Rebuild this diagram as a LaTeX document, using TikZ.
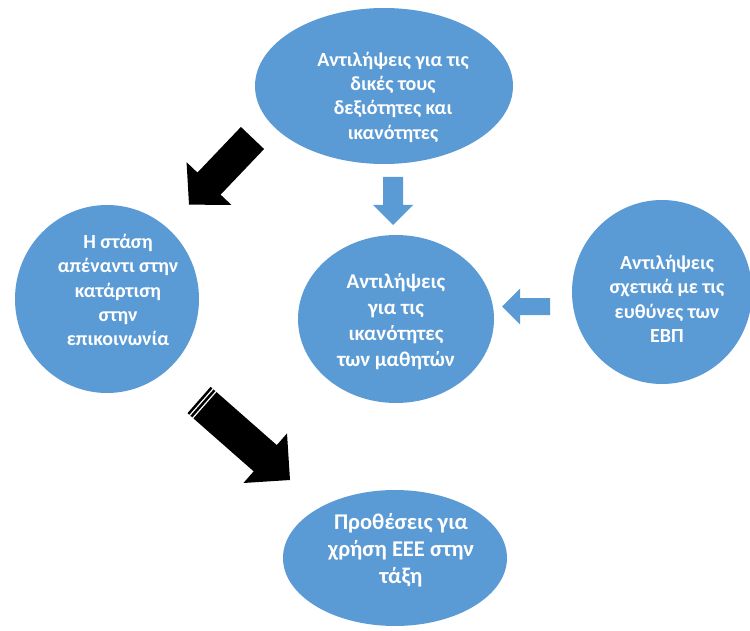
\documentclass[tikz,border=0pt]{standalone}
\usepackage{fontspec}
\setmainfont{Carlito}[BoldFont={Carlito Bold}]
\usetikzlibrary{calc,shapes.geometric}
\definecolor{ovalblue}{RGB}{91,155,213}
\tikzset{
  oval/.style={ellipse, fill=ovalblue, inner sep=0pt},
  lbl/.style={text=white, font=\bfseries\fontsize{20}{24.3}\selectfont, align=center, inner sep=0pt},
  lblbig/.style={lbl, font=\bfseries\fontsize{21}{26}\selectfont},
  lblhuge/.style={lbl, font=\bfseries\fontsize{22.5}{27}\selectfont},
  blackarrow/.style={fill=black},
  bluearrow/.style={fill=ovalblue},
}
% #1 style, #2 tail coordinate, #3 tip coordinate, #4 shaft half width, #5 head half width, #6 head length
\newcommand\blockarrow[6]{%
  \coordinate (#2-b) at ($(#3)!#6!(#2)$);
  \fill[#1] ($(#2)!#4!90:(#3)$) -- ($(#2-b)!#4!90:(#3)$) -- ($(#2-b)!#5!90:(#3)$) -- (#3)
    -- ($(#2-b)!#5!-90:(#3)$) -- ($(#2-b)!#4!-90:(#3)$) -- ($(#2)!#4!-90:(#3)$) -- cycle;
}
\begin{document}
\begin{tikzpicture}[x=1pt,y=-1pt]
\useasboundingbox (0,0) rectangle (750,631);
% ovals
\node[oval, minimum width=258pt, minimum height=156pt] (own) at (384,86) {};
\node[oval, minimum width=184pt, minimum height=188pt] (attitude) at (107,299) {};
\node[oval, minimum width=196pt, minimum height=168pt] (students) at (396,319) {};
\node[oval, minimum width=180pt, minimum height=184pt] (resp) at (662,292) {};
\node[oval, minimum width=224pt, minimum height=136pt] (intent) at (395,558) {};
% texts
\node[lbl] (own-t) at (393,97) {Αντιλήψεις για τις\\δικές τους\\δεξιότητες και\\ικανότητες};
\node[lbl] (attitude-t) at (118,290) {Η στάση\\απέναντι στην\\κατάρτιση\\στην\\επικοινωνία};
\node[lblbig] (students-t) at (396,322) {Αντιλήψεις\\για τις\\ικανότητες\\των μαθητών};
\node[lbl] (resp-t) at (667,299) {Αντιλήψεις\\σχετικά με τις\\ευθύνες των\\ΕΒΠ};
\node[lblhuge] (intent-t) at (401,550) {Προθέσεις για\\χρήση ΕΕΕ στην\\τάξη};
% arrow coordinates
\coordinate (a1t) at (252.5,138);
\coordinate (a1h) at (189,204.6);
\coordinate (a2t) at (199,400);
\coordinate (a2h) at (290,480);
\coordinate (a3t) at (393,177);
\coordinate (a3h) at (393,225);
\coordinate (a4t) at (550,306.5);
\coordinate (a4h) at (502,306.5);
% arrows
\blockarrow{blackarrow}{a1t}{a1h}{16pt}{31pt}{29pt}
\blockarrow{blackarrow}{a2t}{a2h}{17.5pt}{33pt}{33pt}
\blockarrow{bluearrow}{a3t}{a3h}{10pt}{20pt}{20pt}
\blockarrow{bluearrow}{a4t}{a4h}{8.5pt}{18pt}{18pt}
% stripes on the striped arrow
\coordinate (s1) at ($(a2t)!3.2pt!(a2h)$);
\coordinate (s2) at ($(a2t)!7.2pt!(a2h)$);
\draw[white, line width=1.2pt] ($(s1)!19pt!90:(a2h)$) -- ($(s1)!19pt!-90:(a2h)$);
\draw[white, line width=1.2pt] ($(s2)!19pt!90:(a2h)$) -- ($(s2)!19pt!-90:(a2h)$);
\end{tikzpicture}
\end{document}
